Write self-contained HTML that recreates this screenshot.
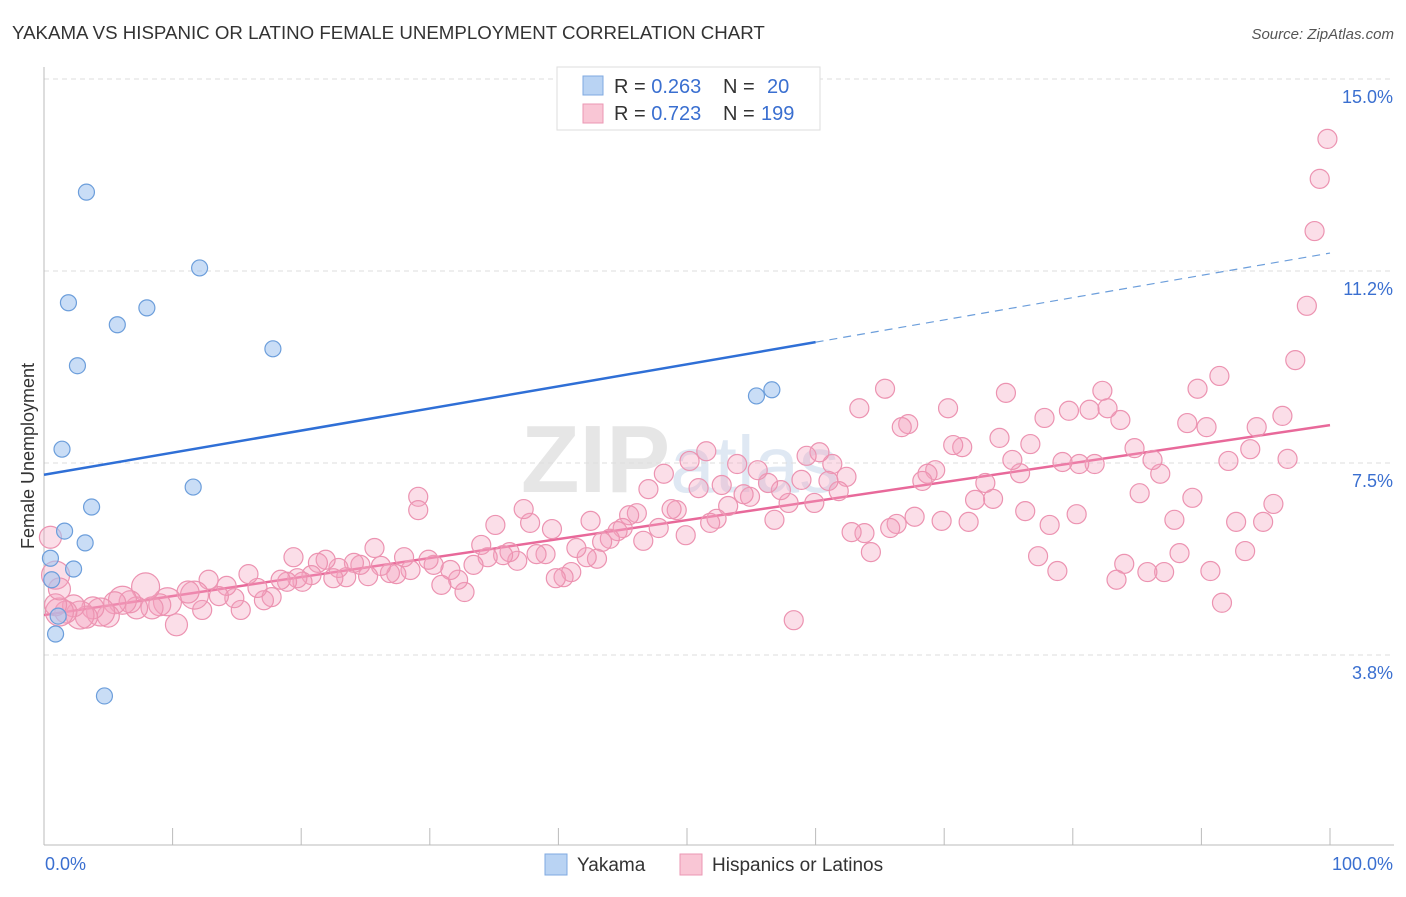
<!DOCTYPE html>
<html><head><meta charset="utf-8"><style>
body{margin:0;background:#fff;font-family:"Liberation Sans",sans-serif;}
svg text{font-family:"Liberation Sans",sans-serif;}
</style></head><body>
<svg id="chart" width="1406" height="892">
<text x="12" y="39" font-size="18.7" fill="#333">YAKAMA VS HISPANIC OR LATINO FEMALE UNEMPLOYMENT CORRELATION CHART</text>
<text x="1394" y="39" font-size="15" fill="#555" font-style="italic" text-anchor="end">Source: ZipAtlas.com</text>
<text x="680" y="492" font-size="96" fill="#e6e6e6" text-anchor="middle" font-weight="bold">ZIP<tspan fill="#dfe8f3" font-weight="normal" font-size="80">atlas</tspan></text>
<g id="grid"></g><g id="axes"></g><g id="lines"></g><g id="pts"></g>
<text transform="translate(34,456) rotate(-90)" font-size="18" fill="#333" text-anchor="middle">Female Unemployment</text>
<g>
<rect x="557" y="67" width="263" height="63" fill="#fff" stroke="#ddd"/>
<rect x="583" y="76" width="20" height="19" fill="#b9d3f3" stroke="#7fa9e0"/>
<rect x="583" y="104" width="20" height="19" fill="#f9c6d5" stroke="#eb97b3"/>
<text x="614" y="93" font-size="20" fill="#333">R = <tspan fill="#3a6fd0">0.263</tspan><tspan x="723">N = </tspan><tspan x="767" fill="#3a6fd0">20</tspan></text>
<text x="614" y="120" font-size="20" fill="#333">R = <tspan fill="#3a6fd0">0.723</tspan><tspan x="723">N = </tspan><tspan x="761" fill="#3a6fd0">199</tspan></text>
</g>
<g>
<rect x="545" y="854" width="22" height="21" fill="#b9d3f3" stroke="#7fa9e0"/>
<text x="577" y="871" font-size="19" fill="#333">Yakama</text>
<rect x="680" y="854" width="22" height="21" fill="#f9c6d5" stroke="#eb97b3"/>
<text x="712" y="871" font-size="19" fill="#333">Hispanics or Latinos</text>
</g>
</svg>
<script>
const yTicks=[15.0,11.2,7.5,3.8];
const yTickVals=[15,11.25,7.5,3.75];
const blueX=[3.3,12.1,1.9,8.0,5.7,17.8,2.6,1.4,11.6,3.7,1.6,3.2,0.5,2.3,0.6,1.1,0.9,4.7,55.4,56.6];
const blueY=[12.79,11.31,10.63,10.53,10.20,9.73,9.40,7.77,7.03,6.64,6.17,5.94,5.64,5.43,5.22,4.51,4.16,2.95,8.81,8.93];
const pinkX=[99.8,99.2,98.8,98.2,97.3,96.3,96.7,95.6,94.8,93.8,94.3,93.4,92.7,92.1,91.6,90.7,91.4,90.4,89.7,89.3,88.9,88.3,87.9,87.1,86.8,86.2,85.8,85.2,84.8,84.0,83.4,83.7,82.7,82.3,81.7,81.3,80.5,80.3,79.7,79.2,78.8,78.2,77.8,77.3,76.7,76.3,75.9,75.3,74.8,74.3,73.8,73.2,72.4,71.9,71.4,70.7,70.3,69.8,69.3,68.7,68.3,67.7,67.2,66.7,66.3,65.8,65.4,64.3,63.8,63.4,62.8,62.4,61.8,61.3,61.0,60.3,59.9,59.3,58.9,58.3,57.9,57.3,56.8,56.3,55.5,54.9,54.4,53.9,53.2,52.7,52.3,51.8,51.5,50.9,50.2,49.9,49.2,48.8,48.2,47.8,47.0,46.6,46.1,45.5,45.0,44.6,44.0,43.4,43.0,42.5,42.2,41.4,41.0,40.4,39.8,39.5,39.0,38.3,37.8,37.3,36.8,36.2,35.7,35.1,34.5,34.0,33.4,32.7,32.2,31.6,30.9,30.3,29.9,29.1,29.1,28.5,28.0,27.4,26.9,26.2,25.7,25.2,24.6,24.1,23.5,22.9,22.5,21.9,21.3,20.8,20.1,19.7,19.4,18.9,18.4,17.7,17.1,16.6,15.9,15.3,14.8,14.2,13.6,12.8,12.3,11.7,11.2,10.3,9.6,9.0,8.4,7.9,7.2,6.7,6.1,5.5,5.0,4.4,3.8,3.3,2.8,2.3,1.7,1.2,0.9,0.5,0.9,1.2];
const pinkY=[13.83,13.05,12.03,10.57,9.51,8.42,7.58,6.70,6.35,7.77,8.20,5.78,6.35,7.54,4.77,5.39,9.20,8.20,8.95,6.82,8.28,5.74,6.39,5.37,7.29,7.56,5.37,6.91,7.79,5.53,5.22,8.34,8.57,8.91,7.48,8.54,7.48,6.50,8.52,7.52,5.39,6.29,8.38,5.68,7.87,6.56,7.30,7.56,8.87,7.99,6.80,7.11,6.78,6.35,7.81,7.85,8.57,6.37,7.36,7.29,7.15,6.45,8.26,8.20,6.31,6.23,8.95,5.76,6.13,8.57,6.15,7.23,6.95,7.48,7.15,7.71,6.72,7.64,7.17,4.43,6.72,6.97,6.39,7.11,7.36,6.84,6.89,7.48,6.66,7.07,6.41,6.33,7.73,7.01,7.54,6.09,6.58,6.60,7.29,6.23,6.99,5.98,6.52,6.48,6.23,6.17,6.02,5.96,5.63,6.37,5.66,5.84,5.37,5.27,5.25,6.21,5.72,5.72,6.33,6.60,5.59,5.76,5.70,6.29,5.66,5.90,5.51,4.98,5.22,5.41,5.12,5.51,5.61,6.84,6.58,5.41,5.66,5.33,5.35,5.49,5.84,5.29,5.51,5.55,5.27,5.45,5.25,5.61,5.55,5.31,5.18,5.25,5.66,5.18,5.22,4.88,4.82,5.06,5.33,4.63,4.86,5.10,4.90,5.22,4.63,4.92,4.98,4.34,4.79,4.73,4.67,5.08,4.67,4.79,4.82,4.77,4.51,4.59,4.67,4.49,4.53,4.71,4.59,4.59,4.73,6.05,5.31,5.04];
const blueLine=[[0,7.27],[60,9.86],[100,11.60]];
const pinkLine=[[0,4.53],[100,8.24]];
const NS='http://www.w3.org/2000/svg';
const X=v=>44+v*12.86, Y=v=>79+(15-v)*51.2;
function mk(t,a,parent){const e=document.createElementNS(NS,t);for(const k in a)e.setAttribute(k,a[k]);document.getElementById(parent).appendChild(e);return e;}
yTickVals.forEach((v,i)=>{
 const g=mk('line',{x1:44,x2:1394,y1:Y(v),y2:Y(v),stroke:'#ddd','stroke-dasharray':'5,4'},'grid');
 
 
 const t=mk('text',{x:1393,y:Y(v)+24,'font-size':18,fill:'#3a6fd0','text-anchor':'end'},'grid');
 t.textContent=yTicks[i].toFixed(1)+'%';
 
 
});
const ax=mk('line',{x1:44,x2:44,y1:67,y2:845,stroke:'#bbb'},'axes');


const bx=mk('line',{x1:44,x2:1394,y1:845,y2:845,stroke:'#bbb'},'axes');


for(let i=0;i<=10;i++){const t=mk('line',{x1:X(i*10),x2:X(i*10),y1:828,y2:845,stroke:'#bbb'},'axes');
 
 }
const xl=mk('text',{x:45,y:870,'font-size':18,fill:'#3a6fd0'},'axes');xl.textContent='0.0%';


const xr=mk('text',{x:1393,y:870,'font-size':18,fill:'#3a6fd0','text-anchor':'end'},'axes');xr.textContent='100.0%';


pinkX.forEach((x,i)=>{const r=x<12?(i%3==0?14:11):9.5;
 const c=mk('circle',{cx:X(x),cy:Y(pinkY[i]),r:r,fill:'rgba(244,160,188,0.35)',stroke:'#ec93b1','stroke-width':1.2},'pts');
 
 });
blueX.forEach((x,i)=>{const c=mk('circle',{cx:X(x),cy:Y(blueY[i]),r:8,fill:'rgba(165,198,240,0.6)',stroke:'#6c9edb','stroke-width':1.2},'pts');
 
 });
const bl=mk('line',{x1:X(blueLine[0][0]),y1:Y(blueLine[0][1]),x2:X(blueLine[1][0]),y2:Y(blueLine[1][1]),stroke:'#2f6fd6','stroke-width':2.5},'lines');


const bd=mk('line',{x1:X(blueLine[1][0]),y1:Y(blueLine[1][1]),x2:X(blueLine[2][0]),y2:Y(blueLine[2][1]),stroke:'#6c9edb','stroke-width':1.2,'stroke-dasharray':'8,6'},'lines');


const pl=mk('line',{x1:X(pinkLine[0][0]),y1:Y(pinkLine[0][1]),x2:X(pinkLine[1][0]),y2:Y(pinkLine[1][1]),stroke:'#e8699a','stroke-width':2.5},'lines');


</script>
</body></html>
